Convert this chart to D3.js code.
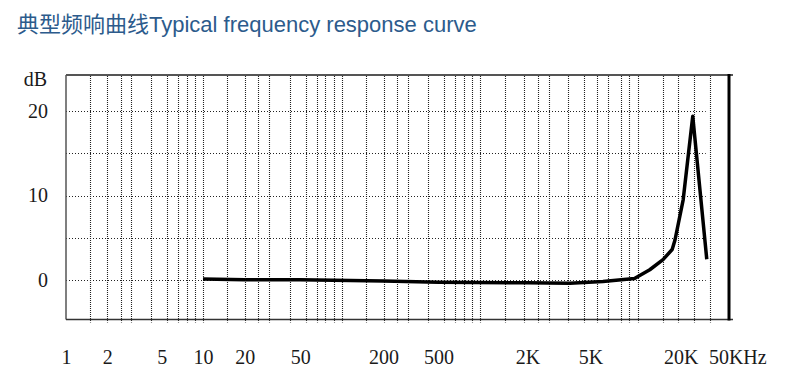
<!DOCTYPE html>
<html>
<head>
<meta charset="utf-8">
<script src="https://cdn.jsdelivr.net/npm/d3@7"></script>
<style>
  html, body { margin: 0; padding: 0; background: #ffffff; }
  svg { display: block; }
</style>
</head>
<body>
<svg id="chart" width="812" height="380"></svg>
<script>
// ---------------- data ----------------
const titleText = "典型频响曲线Typical frequency response curve";

// frequency response curve: frequency (Hz) and level (dB)
const curveFreq = [10, 20, 50, 200, 500, 2000, 3700, 6000, 9500, 12100, 15000, 17400, 18200, 20800, 24300, 30500];
const curveDb   = [0.1, 0, 0, -0.12, -0.27, -0.35, -0.39, -0.2, 0.15, 1.2, 2.4, 3.6, 4.7, 9.5, 19.4, 2.45];

// x-axis tick labels
const xTickValues = [1, 2, 5, 10, 20, 50, 200, 500, 2000, 5000, 20000, 50000];
const xTickText   = ["1", "2", "5", "10", "20", "50", "200", "500", "2K", "5K", "20K", "50KHz"];

// y-axis tick labels
const yTickValues = [0, 10, 20];
const yUnit = "dB";

// vertical grid frequencies (Hz), as drawn on the chart's log paper
const gridFreq = [
  1.5, 2, 2.5, 3, 4.2, 5.5, 6.6, 7.6, 8.7, 10,
  15, 20, 25, 30, 42, 55, 66, 76, 87, 100,
  150, 200, 250, 300, 420, 550, 660, 760, 870, 1000,
  1440, 1900, 2330, 2730, 3600, 4550, 5500, 6450, 7800, 8800, 10000,
  15000, 19000, 24800, 32000
];
// horizontal grid levels (dB)
const gridDb = [0, 5, 10, 15, 20];

// ---------------- layout ----------------
const svg = d3.select("#chart");
const plotLeft = 66, plotRight = 729, plotTop = 75, plotBottom = 319.5;
const decadeWidths = [137, 139, 138, 158, 142];
const decadeEdges = decadeWidths.reduce((a, w) => { a.push(a[a.length - 1] + w); return a; }, [plotLeft]);

const x = d3.scaleLog()
  .domain([1, 10, 100, 1e3, 1e4, 1e5])
  .range(decadeEdges);

const y = d3.scaleLinear()
  .domain([-4.7, 24.3])
  .range([plotBottom, plotTop]);

const serif = "'Liberation Serif', 'Times New Roman', serif";

// title
svg.append("text")
  .attr("x", 17).attr("y", 32)
  .attr("font-family", "'Liberation Sans', Arial, 'Noto Sans CJK SC', sans-serif")
  .attr("font-size", 22)
  .attr("fill", "#2c5b8c")
  .text(titleText);

// grid
const grid = svg.append("g");
grid.selectAll("line.v")
  .data(gridFreq)
  .join("line")
  .attr("class", "v")
  .attr("x1", d => Math.round(x(d)) + 0.5)
  .attr("x2", d => Math.round(x(d)) + 0.5)
  .attr("y1", plotTop + 1)
  .attr("y2", plotBottom + 3)
  .attr("stroke", "#222")
  .attr("stroke-width", 1.1)
  .attr("stroke-dasharray", "1,1");

grid.selectAll("line.h")
  .data(gridDb)
  .join("line")
  .attr("class", "h")
  .attr("x1", plotLeft)
  .attr("x2", x(30000))
  .attr("y1", d => Math.round(y(d)) + 0.5)
  .attr("y2", d => Math.round(y(d)) + 0.5)
  .attr("stroke", "#222")
  .attr("stroke-width", 1.1)
  .attr("stroke-dasharray", "1,2");

// frame
svg.append("line").attr("x1", plotLeft).attr("x2", plotRight + 4).attr("y1", plotTop).attr("y2", plotTop)
  .attr("stroke", "#555").attr("stroke-width", 2);
svg.append("line").attr("x1", plotLeft).attr("x2", plotLeft).attr("y1", plotTop).attr("y2", plotBottom)
  .attr("stroke", "#555").attr("stroke-width", 1.5);
svg.append("line").attr("x1", plotLeft).attr("x2", plotRight + 4).attr("y1", plotBottom).attr("y2", plotBottom)
  .attr("stroke", "#333").attr("stroke-width", 1.5);
svg.append("line").attr("x1", plotRight).attr("x2", plotRight).attr("y1", plotTop - 1).attr("y2", plotBottom + 1)
  .attr("stroke", "#000").attr("stroke-width", 3);

// curve
const line = d3.line()
  .x((d, i) => x(curveFreq[i]))
  .y(d => y(d));
svg.append("path")
  .datum(curveDb)
  .attr("d", line)
  .attr("fill", "none")
  .attr("stroke", "#000")
  .attr("stroke-width", 3.5)
  .attr("stroke-linejoin", "round")
  .attr("stroke-linecap", "butt");

// axes
const xAxis = svg.append("g")
  .attr("transform", `translate(0,${plotBottom})`)
  .call(d3.axisBottom(x).tickValues(xTickValues).tickFormat((d, i) => xTickText[i]).tickSize(0).tickPadding(30));
xAxis.select(".domain").remove();
xAxis.selectAll("text")
  .attr("font-family", serif).attr("font-size", 20).attr("fill", "#1a1a1a");

const yAxis = svg.append("g")
  .attr("transform", `translate(${plotLeft},0)`)
  .call(d3.axisLeft(y).tickValues(yTickValues).tickSize(0).tickPadding(18));
yAxis.select(".domain").remove();
yAxis.selectAll("text")
  .attr("font-family", serif).attr("font-size", 20).attr("fill", "#1a1a1a");

svg.append("text")
  .attr("x", plotLeft - 19).attr("y", plotTop + 11)
  .attr("text-anchor", "end")
  .attr("font-family", serif).attr("font-size", 20).attr("fill", "#1a1a1a")
  .text(yUnit);
</script>
</body>
</html>
